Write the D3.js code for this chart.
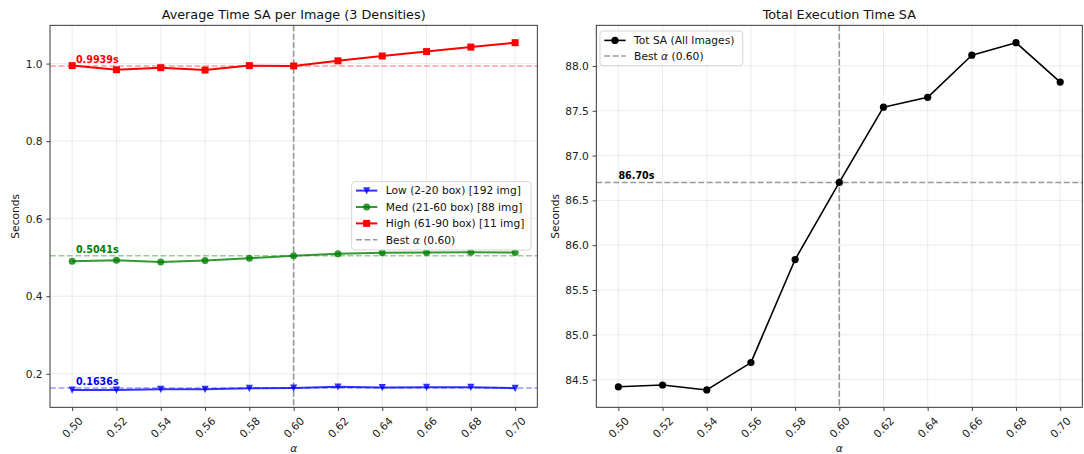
<!DOCTYPE html>
<html>
<head>
<meta charset="utf-8">
<script src="https://cdn.jsdelivr.net/npm/d3@7"></script>
<style>
  html, body { margin: 0; padding: 0; background: #fff; }
  svg { display: block; font-family: "DejaVu Sans", sans-serif; }
</style>
</head>
<body>
<svg id="chart" width="1084" height="454"></svg>
<script>
// Alpha values swept in the simulated-annealing runs
const alphas = [0.50, 0.52, 0.54, 0.56, 0.58, 0.60, 0.62, 0.64, 0.66, 0.68, 0.70];
const xTickLabels = ["0.50", "0.52", "0.54", "0.56", "0.58", "0.60", "0.62", "0.64", "0.66", "0.68", "0.70"];

// Average SA time per image (seconds) for each box-density group
const lowTimes  = [0.1583, 0.1583, 0.1601, 0.1601, 0.1627, 0.1636, 0.1663, 0.1645, 0.1654, 0.1654, 0.1627];
const medTimes  = [0.4902, 0.4928, 0.4885, 0.4920, 0.4980, 0.5041, 0.5093, 0.5119, 0.5128, 0.5136, 0.5128];
const highTimes = [0.9948, 0.9842, 0.9895, 0.9833, 0.9948, 0.9939, 1.0072, 1.0196, 1.0310, 1.0426, 1.0540];

// Total SA execution time over all images (seconds)
const totalTimes = [84.42, 84.44, 84.385, 84.69, 85.84, 86.70, 87.54, 87.65, 88.12, 88.26, 87.82];

const seriesNames = ["Low (2-20 box) [192 img]", "Med (21-60 box) [88 img]", "High (61-90 box) [11 img]"];
const totalName = "Tot SA (All Images)";
const bestAlpha = 0.60;

const leftYTicks = [0.2, 0.4, 0.6, 0.8, 1.0];
const leftYTickLabels = ["0.2", "0.4", "0.6", "0.8", "1.0"];
const rightYTicks = [84.5, 85.0, 85.5, 86.0, 86.5, 87.0, 87.5, 88.0];
const rightYTickLabels = ["84.5", "85.0", "85.5", "86.0", "86.5", "87.0", "87.5", "88.0"];

const svg = d3.select("#chart");
const FONT = 10.67;
const GRAY = "#808080";

// Autoscale with 5% margin on both sides
function padded(ext) {
  const m = (ext[1] - ext[0]) * 0.05;
  return [ext[0] - m, ext[1] + m];
}

function makeAxes(opts) {
  const { x0, x1, y0, y1, yDomain, yTicks, yLabels, title } = opts;
  const g = svg.append("g");
  const x = d3.scaleLinear().domain(padded(d3.extent(alphas))).range([x0, x1]);
  const y = d3.scaleLinear().domain(yDomain).range([y1, y0]);

  // grid
  const grid = g.append("g").attr("stroke", "#b0b0b0").attr("stroke-opacity", 0.3).attr("stroke-width", 0.8);
  grid.selectAll("line.gx").data(alphas).join("line")
    .attr("x1", d => x(d)).attr("x2", d => x(d)).attr("y1", y0).attr("y2", y1);
  grid.selectAll("line.gy").data(yTicks).join("line")
    .attr("y1", d => y(d)).attr("y2", d => y(d)).attr("x1", x0).attr("x2", x1);

  // x axis (rotated labels)
  const xAxis = d3.axisBottom(x).tickValues(alphas).tickSize(3.7).tickPadding(3.7)
    .tickFormat((d, i) => xTickLabels[i]);
  const xg = g.append("g").attr("transform", `translate(0,${y1})`).call(xAxis);
  xg.select(".domain").remove();
  xg.selectAll(".tick line").attr("stroke", "#222").attr("stroke-width", 0.85);
  xg.selectAll(".tick text")
    .attr("font-family", "DejaVu Sans").attr("font-size", FONT).attr("fill", "#222")
    .attr("text-anchor", "middle").attr("dominant-baseline", "central")
    .attr("y", 0).attr("dy", null)
    .attr("transform", "translate(0,20.3) rotate(-45)");

  // y axis
  const yAxis = d3.axisLeft(y).tickValues(yTicks).tickSize(3.7).tickPadding(3.7)
    .tickFormat((d, i) => yLabels[i]);
  const yg = g.append("g").attr("transform", `translate(${x0},0)`).call(yAxis);
  yg.select(".domain").remove();
  yg.selectAll(".tick line").attr("stroke", "#222").attr("stroke-width", 0.85);
  yg.selectAll(".tick text")
    .attr("font-family", "DejaVu Sans").attr("font-size", FONT).attr("fill", "#222")
    .attr("dy", null).attr("dominant-baseline", "central");

  // title and labels
  g.append("text").attr("x", (x0 + x1) / 2).attr("y", y0 - 6.4)
    .attr("text-anchor", "middle").attr("font-size", 12.8).attr("fill", "#111").text(title);
  g.append("text").attr("x", (x0 + x1) / 2).attr("y", 452)
    .attr("text-anchor", "middle").attr("font-size", FONT).attr("font-style", "italic")
    .attr("fill", "#111").text("α");
  g.append("text")
    .attr("transform", `translate(${opts.yLabelX},${(y0 + y1) / 2}) rotate(-90)`)
    .attr("text-anchor", "middle").attr("dominant-baseline", "central")
    .attr("font-size", FONT).attr("fill", "#111").text("Seconds");

  return { g, x, y, x0, x1, y0, y1 };
}

function drawFrame(ax) {
  ax.g.append("rect").attr("x", ax.x0).attr("y", ax.y0)
    .attr("width", ax.x1 - ax.x0).attr("height", ax.y1 - ax.y0)
    .attr("fill", "none").attr("stroke", "#222").attr("stroke-width", 0.9);
}

function marker(sel, shape, r) {
  if (shape === "circle") {
    sel.append("circle").attr("r", r);
  } else if (shape === "square") {
    sel.append("rect").attr("x", -r).attr("y", -r).attr("width", 2 * r).attr("height", 2 * r);
  } else {
    sel.append("path").attr("d", `M0,${r * 1.05}L${-r},${-r * 0.95}L${r},${-r * 0.95}Z`);
  }
}

function legend(g, x, y, w, h, rowYs, entries) {
  g.append("rect").attr("x", x).attr("y", y).attr("width", w).attr("height", h)
    .attr("rx", 3).attr("fill", "#fff").attr("fill-opacity", 0.8)
    .attr("stroke", "#d0d0d0").attr("stroke-width", 0.9);
  entries.forEach((e, i) => {
    const ry = rowYs[i];
    const hx0 = x + 4.3, hx1 = x + 4.3 + 21.3;
    const line = g.append("line").attr("x1", hx0).attr("x2", hx1).attr("y1", ry).attr("y2", ry)
      .attr("stroke", e.color).attr("stroke-opacity", e.opacity)
      .attr("stroke-width", e.width);
    if (e.dash) line.attr("stroke-dasharray", e.dash);
    if (e.marker) {
      const m = g.append("g").attr("transform", `translate(${(hx0 + hx1) / 2},${ry})`)
        .attr("fill", e.color).attr("fill-opacity", e.opacity);
      marker(m, e.marker, e.r);
    }
    const t = g.append("text").attr("x", hx1 + 8.5).attr("y", ry)
      .attr("dominant-baseline", "central").attr("font-size", FONT).attr("fill", "#111");
    if (e.alphaLabel) {
      t.append("tspan").text("Best ");
      t.append("tspan").attr("font-style", "italic").text("α");
      t.append("tspan").text(` (${bestAlpha.toFixed(2)})`);
    } else {
      t.text(e.label);
    }
  });
}

const bestIdx = alphas.indexOf(bestAlpha);

// ---------- Left panel: average time per image by density ----------
const left = makeAxes({
  x0: 50, x1: 537.3, y0: 25.3, y1: 407.3,
  yDomain: padded(d3.extent([...lowTimes, ...medTimes, ...highTimes])),
  yTicks: leftYTicks, yLabels: leftYTickLabels,
  title: "Average Time SA per Image (3 Densities)", yLabelX: 15
});

const groups = [
  { values: lowTimes,  color: "#0000ff", opacity: 0.8, marker: "tri",    r: 3.6, name: seriesNames[0] },
  { values: medTimes,  color: "#008000", opacity: 0.8, marker: "circle", r: 3.5, name: seriesNames[1] },
  { values: highTimes, color: "#ff0000", opacity: 1.0, marker: "square", r: 3.5, name: seriesNames[2] }
];

// horizontal reference lines at the best-alpha values
groups.forEach(s => {
  const v = s.values[bestIdx];
  left.g.append("line").attr("x1", left.x0).attr("x2", left.x1)
    .attr("y1", left.y(v)).attr("y2", left.y(v))
    .attr("stroke", s.color).attr("stroke-opacity", 0.4).attr("stroke-width", 1.5)
    .attr("stroke-dasharray", "5.9,2.6");
});

// best alpha vertical line
left.g.append("line").attr("x1", left.x(bestAlpha)).attr("x2", left.x(bestAlpha))
  .attr("y1", left.y0).attr("y2", left.y1)
  .attr("stroke", GRAY).attr("stroke-opacity", 0.8).attr("stroke-width", 1.6)
  .attr("stroke-dasharray", "5.9,2.6");

const lineGen = (ax, vals) => d3.line().x((d, i) => ax.x(alphas[i])).y(d => ax.y(d))(vals);

groups.forEach(s => {
  left.g.append("path").attr("d", lineGen(left, s.values))
    .attr("fill", "none").attr("stroke", s.color).attr("stroke-opacity", s.opacity)
    .attr("stroke-width", 2).attr("stroke-linejoin", "round");
  s.values.forEach((v, i) => {
    const m = left.g.append("g").attr("transform", `translate(${left.x(alphas[i])},${left.y(v)})`)
      .attr("fill", s.color).attr("fill-opacity", s.opacity);
    marker(m, s.marker, s.r);
  });
  // value label at best alpha
  const v = s.values[bestIdx];
  left.g.append("text").attr("x", left.x(alphas[0]) + 3.8).attr("y", left.y(v) - 3.2)
    .attr("font-size", 9.6).attr("font-weight", "bold").attr("fill", s.color)
    .text(v.toFixed(4) + "s");
});

drawFrame(left);

legend(left.g, 351.7, 181.7, 179.3, 68.3, [190.6, 207.0, 223.4, 239.8], [
  { label: groups[0].name, color: groups[0].color, opacity: 0.8, width: 2, marker: "tri", r: 3.6 },
  { label: groups[1].name, color: groups[1].color, opacity: 0.8, width: 2, marker: "circle", r: 3.5 },
  { label: groups[2].name, color: groups[2].color, opacity: 1, width: 2, marker: "square", r: 3.5 },
  { alphaLabel: true, color: GRAY, opacity: 0.8, width: 1.6, dash: "5.9,2.6" }
]);

// ---------- Right panel: total execution time ----------
const right = makeAxes({
  x0: 596.3, x1: 1082.3, y0: 25.3, y1: 407.3,
  yDomain: padded(d3.extent(totalTimes)),
  yTicks: rightYTicks, yLabels: rightYTickLabels,
  title: "Total Execution Time SA", yLabelX: 555
});

const bestTotal = totalTimes[bestIdx];
right.g.append("line").attr("x1", right.x0).attr("x2", right.x1)
  .attr("y1", right.y(bestTotal)).attr("y2", right.y(bestTotal))
  .attr("stroke", GRAY).attr("stroke-opacity", 0.8).attr("stroke-width", 1.6)
  .attr("stroke-dasharray", "5.9,2.6");
right.g.append("line").attr("x1", right.x(bestAlpha)).attr("x2", right.x(bestAlpha))
  .attr("y1", right.y0).attr("y2", right.y1)
  .attr("stroke", GRAY).attr("stroke-opacity", 0.8).attr("stroke-width", 1.6)
  .attr("stroke-dasharray", "5.9,2.6");

right.g.append("path").attr("d", lineGen(right, totalTimes))
  .attr("fill", "none").attr("stroke", "#000").attr("stroke-width", 1.6)
  .attr("stroke-linejoin", "round");
right.g.selectAll("circle.pt").data(totalTimes).join("circle")
  .attr("cx", (d, i) => right.x(alphas[i])).attr("cy", d => right.y(d))
  .attr("r", 3.6).attr("fill", "#000");

right.g.append("text").attr("x", right.x(alphas[0])).attr("y", right.y(bestTotal) - 3.2)
  .attr("font-size", 9.6).attr("font-weight", "bold").attr("fill", "#000")
  .text(bestTotal.toFixed(2) + "s");

drawFrame(right);

legend(right.g, 600, 31, 142.7, 34.7, [40.4, 56.0], [
  { label: totalName, color: "#000", opacity: 1, width: 1.6, marker: "circle", r: 3.6 },
  { alphaLabel: true, color: GRAY, opacity: 0.8, width: 1.6, dash: "5.9,2.6" }
]);
</script>
</body>
</html>
